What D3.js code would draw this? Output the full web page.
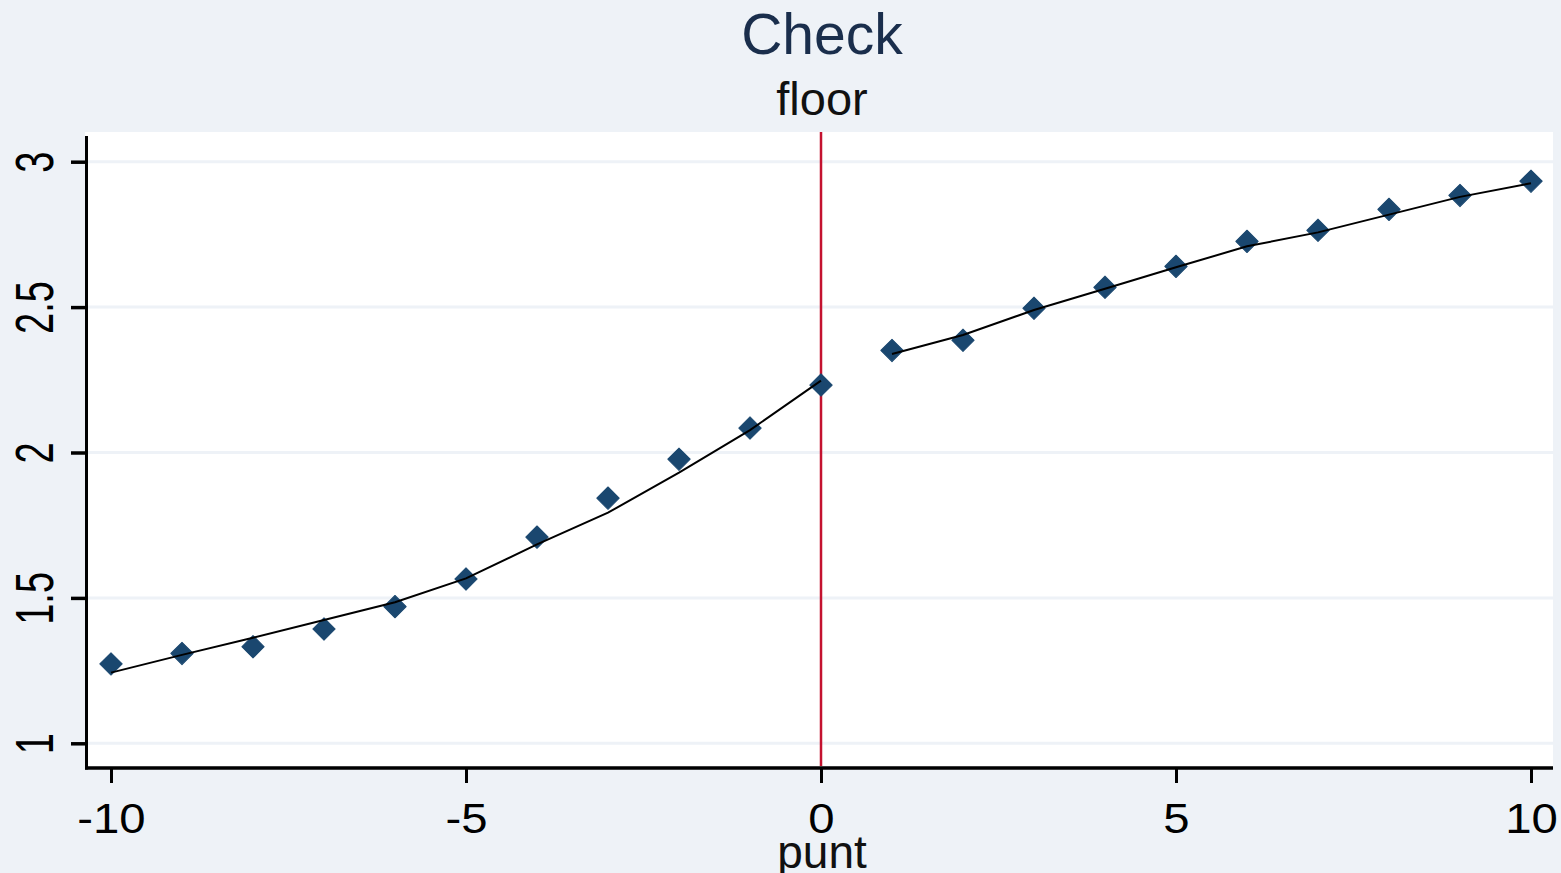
<!DOCTYPE html>
<html>
<head>
<meta charset="utf-8">
<script src="https://cdn.jsdelivr.net/npm/d3@7"></script>
<style>
  html, body { margin: 0; padding: 0; background: #eef2f7; }
  svg { display: block; }
  text { font-family: "Liberation Sans", Arial, sans-serif; }
</style>
</head>
<body>
<svg id="chart" width="1561" height="873"></svg>
<script>
// ---- data ----
const titleText = "Check";
const subtitleText = "floor";
const xAxisLabel = "punt";

const leftX = [-10, -9, -8, -7, -6, -5, -4, -3, -2, -1, 0];
const leftMeans = [1.273, 1.309, 1.332, 1.393, 1.470, 1.565, 1.709, 1.843, 1.977, 2.084, 2.232];
const leftFit = [1.243, 1.304, 1.363, 1.424, 1.485, 1.567, 1.684, 1.793, 1.931, 2.077, 2.247];

const rightX = [1, 2, 3, 4, 5, 6, 7, 8, 9, 10];
const rightMeans = [2.351, 2.386, 2.496, 2.568, 2.640, 2.726, 2.764, 2.836, 2.884, 2.933];
const rightFit = [2.339, 2.404, 2.490, 2.563, 2.637, 2.709, 2.757, 2.818, 2.879, 2.926];

const xTicks = [-10, -5, 0, 5, 10];
const yTicks = [1, 1.5, 2, 2.5, 3];
const cutoff = [0];

// ---- layout ----
const svg = d3.select("#chart");
const W = 1561, H = 873;
const plot = { left: 85, right: 1553, top: 132, bottom: 766 };
const bg = "#eef2f7";

const x = d3.scaleLinear().domain([-10, 10]).range([111, 1531]);
const y = d3.scaleLinear().domain([1, 3]).range([743.3, 161.7]);

svg.append("rect").attr("width", W).attr("height", H).attr("fill", bg);
svg.append("rect")
  .attr("x", plot.left).attr("y", plot.top)
  .attr("width", plot.right - plot.left).attr("height", plot.bottom - plot.top)
  .attr("fill", "#ffffff");

// gridlines
svg.append("g").selectAll("line").data(yTicks).join("line")
  .attr("x1", plot.left + 2).attr("x2", plot.right)
  .attr("y1", d => y(d)).attr("y2", d => y(d))
  .attr("stroke", bg).attr("stroke-width", 3);

// cutoff line
svg.append("g").selectAll("line").data(cutoff).join("line")
  .attr("x1", d => x(d)).attr("x2", d => x(d))
  .attr("y1", plot.top).attr("y2", plot.bottom)
  .attr("stroke", "#c4122f").attr("stroke-width", 2.5);

// markers
const diamond = d3.symbol().type(d3.symbolSquare).size(250);
const markerColor = "#1a476f";
function drawMarkers(xs, ys) {
  svg.append("g").selectAll("path").data(xs).join("path")
    .attr("d", diamond)
    .attr("transform", (d, i) => `translate(${x(d)},${y(ys[i])}) rotate(45)`)
    .attr("fill", markerColor)
    .attr("stroke", markerColor).attr("stroke-width", 1).attr("stroke-linejoin", "round");
}
drawMarkers(leftX, leftMeans);
drawMarkers(rightX, rightMeans);

// fit lines
const line = d3.line().x(d => x(d[0])).y(d => y(d[1]));
function drawFit(xs, ys) {
  svg.append("path")
    .attr("d", line(xs.map((d, i) => [d, ys[i]])))
    .attr("fill", "none").attr("stroke", "#000").attr("stroke-width", 2);
}
drawFit(leftX, leftFit);
drawFit(rightX, rightFit);

// axes
const yAxis = d3.axisLeft(y).tickValues(yTicks).tickSize(14).tickSizeOuter(0)
  .tickFormat(d3.format("~g"));
const gy = svg.append("g").attr("transform", `translate(${plot.left},0)`).call(yAxis);
gy.select(".domain").remove();
gy.selectAll(".tick line").attr("stroke", "#000").attr("stroke-width", 3.5);
gy.selectAll(".tick text")
  .attr("x", null).attr("dy", null)
  .attr("text-anchor", "middle")
  .attr("fill", "#000")
  .style("font-size", "38px")
  .attr("transform", `translate(${33.5 - plot.left},0) rotate(-90) scale(1,1.43)`)
  .attr("dy", "0.36em");

const xAxis = d3.axisBottom(x).tickValues(xTicks).tickSize(15).tickSizeOuter(0)
  .tickFormat(d3.format("~g"));
const gx = svg.append("g").attr("transform", `translate(0,768)`).call(xAxis);
gx.select(".domain").remove();
gx.selectAll(".tick line").attr("stroke", "#000").attr("stroke-width", 3);
gx.selectAll(".tick text")
  .attr("y", null).attr("dy", null)
  .attr("fill", "#000")
  .style("font-size", "43px")
  .attr("text-anchor", "middle")
  .attr("transform", "translate(0,65) scale(1.1,1)")
  .text(d => d < 0 ? "-" + Math.abs(d) : String(d));

// axis lines
svg.append("line")
  .attr("x1", 86.5).attr("x2", 86.5).attr("y1", 136).attr("y2", 769.5)
  .attr("stroke", "#000").attr("stroke-width", 3);
svg.append("line")
  .attr("x1", 85).attr("x2", plot.right).attr("y1", 768).attr("y2", 768)
  .attr("stroke", "#000").attr("stroke-width", 3.5);

// titles
svg.append("text").attr("x", 822).attr("y", 54)
  .attr("text-anchor", "middle").attr("fill", "#1a2e4c")
  .style("font-size", "57px").text(titleText);
svg.append("text").attr("x", 822).attr("y", 115)
  .attr("text-anchor", "middle").attr("fill", "#111")
  .style("font-size", "47px").text(subtitleText);
svg.append("text").attr("x", 822).attr("y", 868)
  .attr("text-anchor", "middle").attr("fill", "#111")
  .style("font-size", "46px").text(xAxisLabel);
</script>
</body>
</html>
